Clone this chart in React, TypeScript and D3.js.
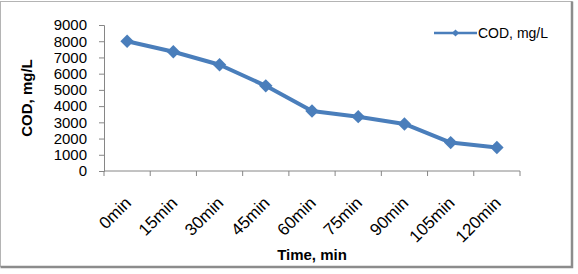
import React, { useEffect, useRef } from 'react';
import * as d3 from 'd3';

const categories = ['0min', '15min', '30min', '45min', '60min', '75min', '90min', '105min', '120min'];
const codValues = [8000, 7350, 6550, 5250, 3700, 3350, 2900, 1750, 1450];
const yTicks = [0, 1000, 2000, 3000, 4000, 5000, 6000, 7000, 8000, 9000];
const seriesName = 'COD, mg/L';

const W = 578;
const H = 274;
const BLUE = '#4a7ebb';
const AXIS = '#868686';
const FONT = '"Liberation Sans", Arial, sans-serif';

export default function App() {
  const svgRef = useRef<SVGSVGElement>(null);

  useEffect(() => {
    if (!svgRef.current) return;
    const svg = d3.select(svgRef.current);
    svg.selectAll('*').remove();

    const plot = { left: 104, right: 520, top: 25, bottom: 171 };

    // outer chart frame, heavier on the right and bottom edges
    svg.append('rect')
      .attr('x', 0.5).attr('y', 1.5)
      .attr('width', 571.5).attr('height', 265)
      .attr('fill', '#fff')
      .attr('stroke', '#b4b4b4');
    svg.append('path')
      .attr('d', `M572,1.5V267H0.5`)
      .attr('fill', 'none')
      .attr('stroke', '#8c8c8c')
      .attr('stroke-width', 2.5);

    const x = d3.scaleBand().domain(categories).range([plot.left, plot.right]);
    const y = d3.scaleLinear().domain([0, 9000]).range([plot.bottom, plot.top]);

    // y axis
    const yAxis = svg.append('g')
      .attr('transform', `translate(${plot.left},0)`)
      .call(d3.axisLeft(y).tickValues(yTicks).tickSize(5).tickPadding(12).tickFormat(d3.format('d')));
    yAxis.selectAll('line, path').attr('stroke', AXIS);
    yAxis.selectAll('text')
      .style('font-family', FONT).style('font-size', '15px').attr('fill', '#000');

    // x axis: ticks at category boundaries
    const xAxis = svg.append('g').attr('transform', `translate(0,${plot.bottom})`);
    xAxis.append('line')
      .attr('x1', plot.left).attr('x2', plot.right)
      .attr('stroke', AXIS);
    const bounds = d3.range(categories.length + 1).map((i) => plot.left + i * x.bandwidth());
    xAxis.selectAll('line.tick')
      .data(bounds)
      .enter()
      .append('line')
      .attr('class', 'tick')
      .attr('x1', (d) => d).attr('x2', (d) => d)
      .attr('y1', 0).attr('y2', 5)
      .attr('stroke', AXIS);
    xAxis.selectAll('text')
      .data(categories)
      .enter()
      .append('text')
      .attr('transform', (d) => `translate(${(x(d) || 0) + x.bandwidth() / 2 + 5},${33}) rotate(-45)`)
      .attr('text-anchor', 'end')
      .style('font-family', FONT)
      .style('font-size', '17px')
      .text((d) => d);

    // axis titles
    svg.append('text')
      .attr('x', (plot.left + plot.right) / 2)
      .attr('y', 260)
      .attr('text-anchor', 'middle')
      .style('font-family', FONT).style('font-size', '15px').style('font-weight', 'bold')
      .text('Time, min');
    svg.append('text')
      .attr('transform', `translate(32,${(plot.top + plot.bottom) / 2}) rotate(-90)`)
      .attr('text-anchor', 'middle')
      .style('font-family', FONT).style('font-size', '15px').style('font-weight', 'bold')
      .text('COD, mg/L');

    // series line
    const cx = (i: number) => (x(categories[i]) || 0) + x.bandwidth() / 2;
    const line = d3.line<number>().x((_, i) => cx(i)).y((d) => y(d));
    svg.append('path')
      .datum(codValues)
      .attr('d', line)
      .attr('fill', 'none')
      .attr('stroke', BLUE)
      .attr('stroke-width', 4)
      .attr('stroke-linejoin', 'round');

    const diamond = d3.symbol().type(d3.symbolSquare).size(90);
    svg.selectAll('path.marker')
      .data(codValues)
      .enter()
      .append('path')
      .attr('class', 'marker')
      .attr('d', diamond)
      .attr('transform', (d, i) => `translate(${cx(i)},${y(d)}) rotate(45)`)
      .attr('fill', BLUE);

    // legend
    const legend = svg.append('g').attr('transform', 'translate(434,33)');
    legend.append('line')
      .attr('x1', 0).attr('x2', 43)
      .attr('stroke', BLUE).attr('stroke-width', 2.5);
    legend.append('path')
      .attr('d', d3.symbol().type(d3.symbolSquare).size(26)())
      .attr('transform', 'translate(21.5,0) rotate(45)')
      .attr('fill', BLUE);
    legend.append('text')
      .attr('x', 44)
      .attr('dy', '0.35em')
      .style('font-family', FONT).style('font-size', '14px')
      .text(seriesName);
  }, []);

  return (
    <div style={{ position: 'fixed', left: 0, top: 0 }}>
      <svg ref={svgRef} width={W} height={H} style={{ display: 'block' }}></svg>
    </div>
  );
}
